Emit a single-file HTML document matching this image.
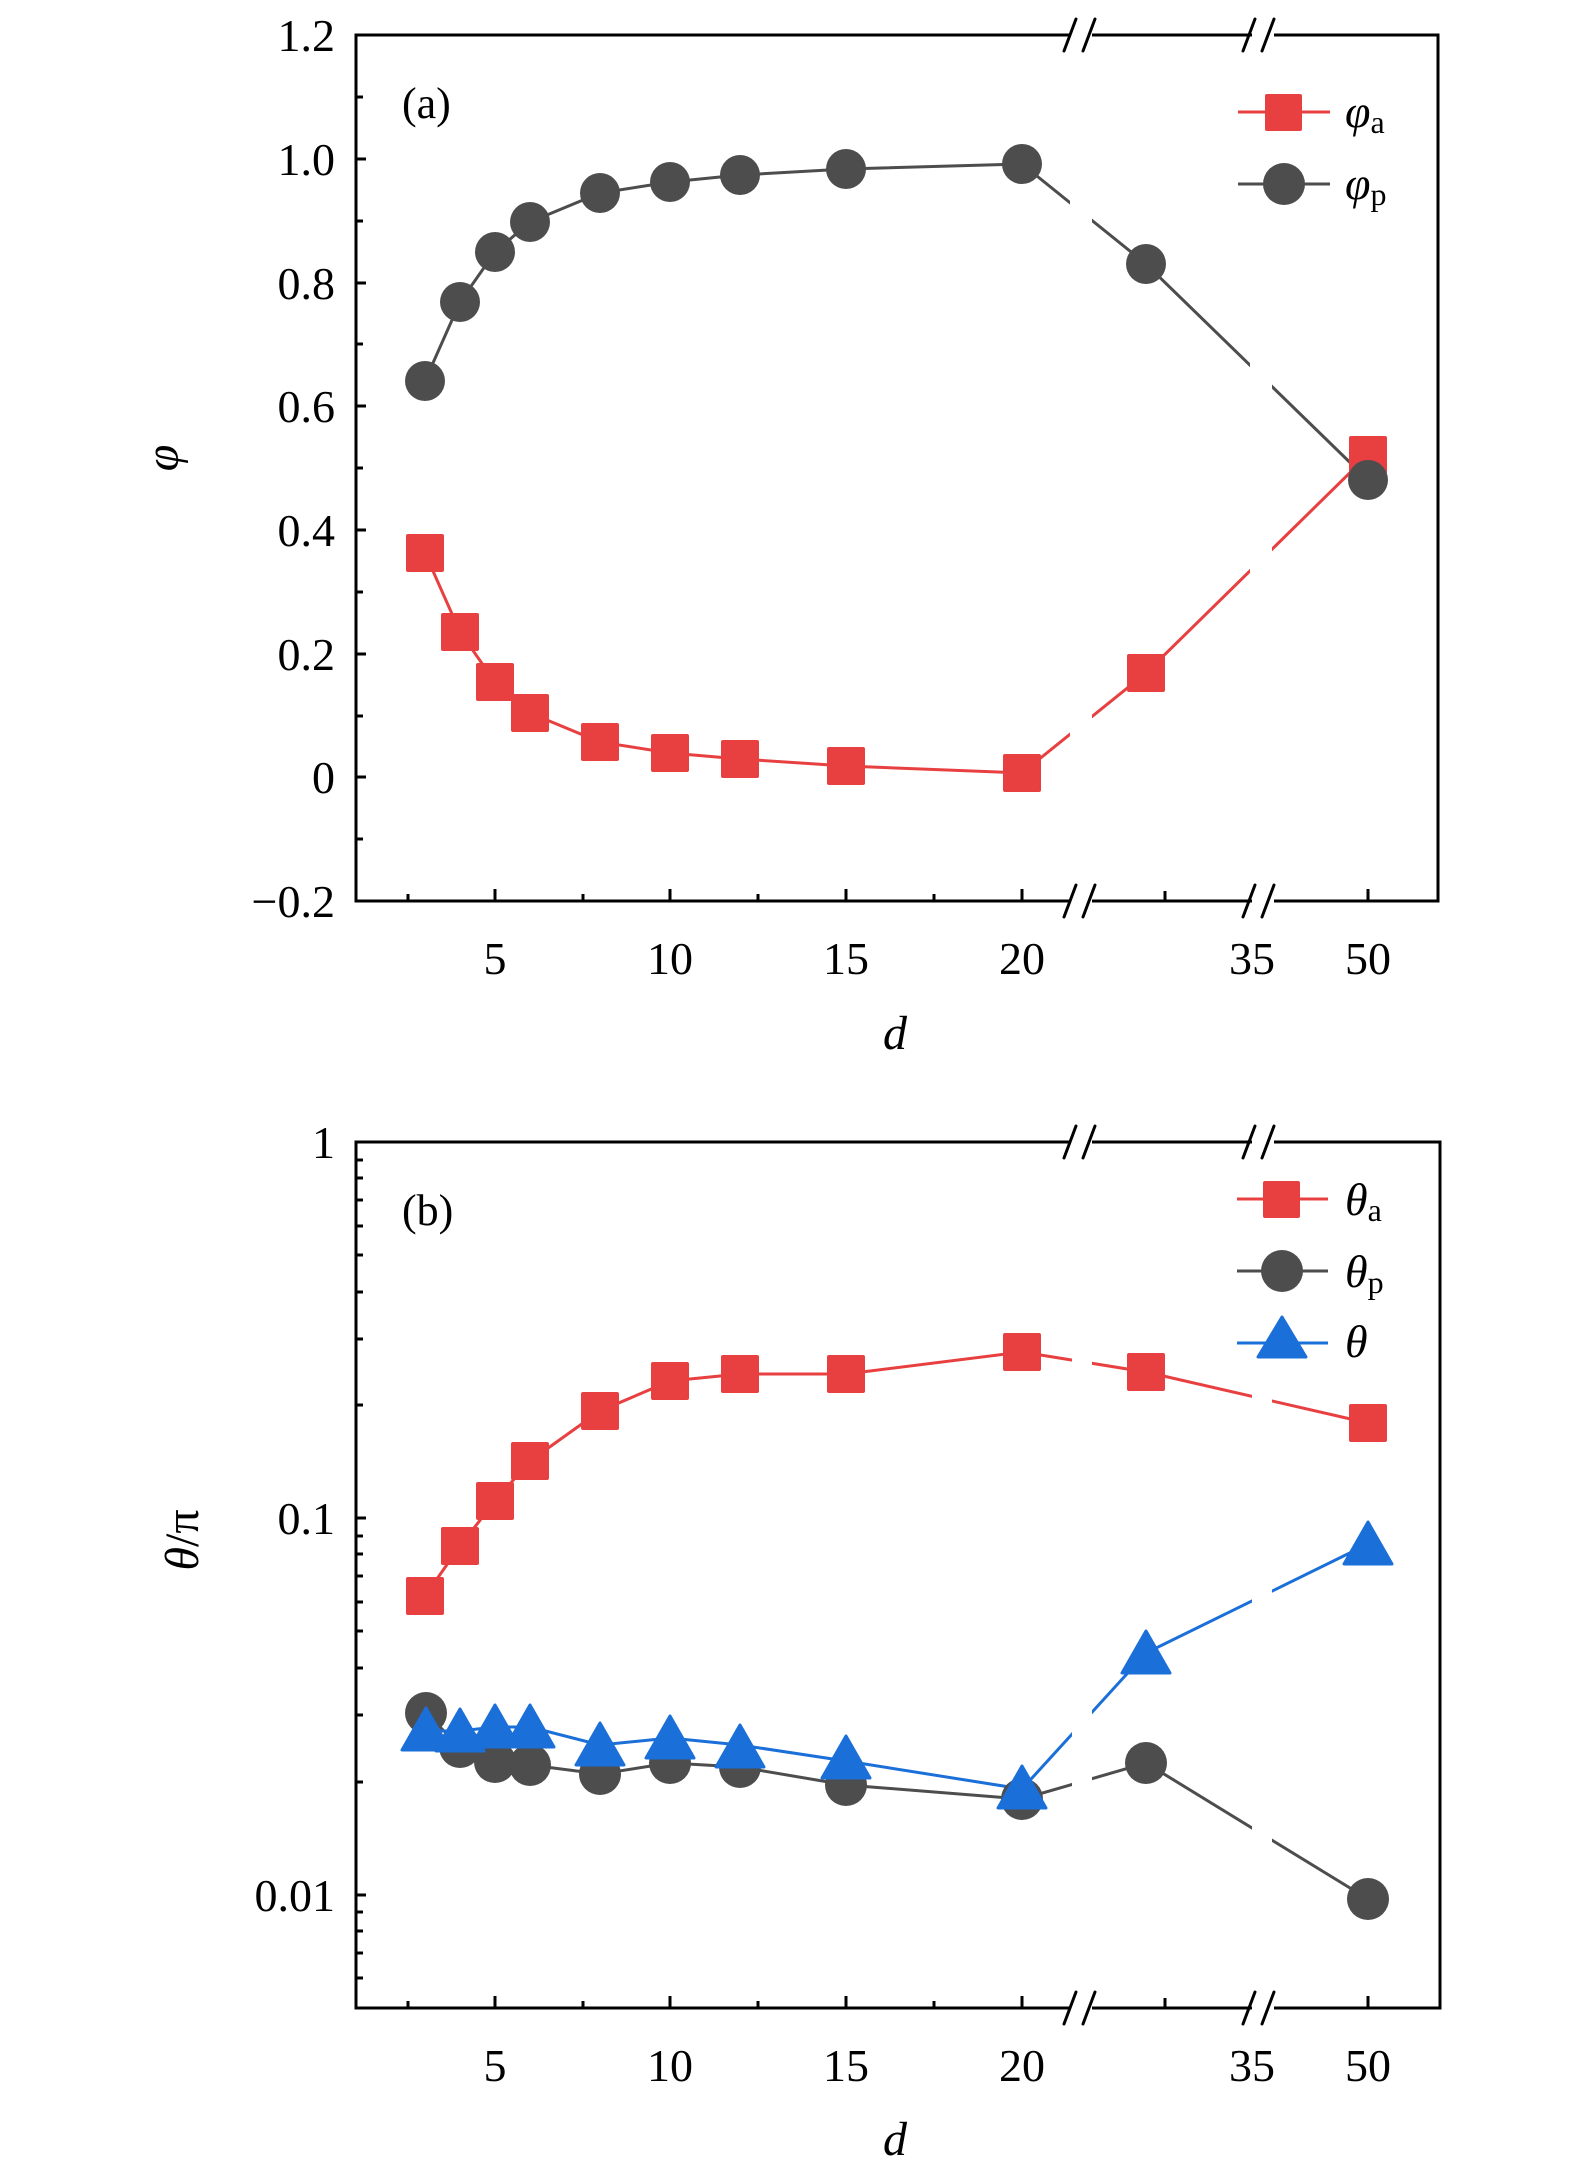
<!DOCTYPE html>
<html><head><meta charset="utf-8"><style>
html,body{margin:0;padding:0;background:#fff;}
svg{display:block;}
text{font-family:"Liberation Serif",serif;fill:#000;}
</style></head><body>
<svg width="1575" height="2175" viewBox="0 0 1575 2175" xmlns="http://www.w3.org/2000/svg">
<!-- ========== PANEL A ========== -->
<g>
<polyline fill="none" stroke="#4d4d4d" stroke-width="3" points="425,381 460,302 495,252 530,222 600,193 670,182 740,175 846,169 1022,164 1146,264 1368,480"/>
<polyline fill="none" stroke="#e84040" stroke-width="3" points="425,553 460,632 495,682 530,713 600,742 670,753 740,759 846,766 1022,773 1146,673 1368,455"/>
<rect x="1070" y="40" width="22" height="855" fill="#fff"/>
<rect x="1250" y="40" width="22" height="855" fill="#fff"/>
<g fill="#4d4d4d">
<circle cx="425" cy="381" r="20"/><circle cx="460" cy="302" r="20"/><circle cx="495" cy="252" r="20"/><circle cx="530" cy="222" r="20"/><circle cx="600" cy="193" r="20"/><circle cx="670" cy="182" r="20"/><circle cx="740" cy="175" r="20"/><circle cx="846" cy="169" r="20"/><circle cx="1022" cy="164" r="20"/><circle cx="1146" cy="264" r="20"/>
</g>
<g fill="#e84040">
<rect x="406" y="534" width="38" height="38" rx="2"/><rect x="441" y="613" width="38" height="38" rx="2"/><rect x="476" y="663" width="38" height="38" rx="2"/><rect x="511" y="694" width="38" height="38" rx="2"/><rect x="581" y="723" width="38" height="38" rx="2"/><rect x="651" y="734" width="38" height="38" rx="2"/><rect x="721" y="740" width="38" height="38" rx="2"/><rect x="827" y="747" width="38" height="38" rx="2"/><rect x="1003" y="754" width="38" height="38" rx="2"/><rect x="1127" y="654" width="38" height="38" rx="2"/><rect x="1349" y="436" width="38" height="38" rx="2"/>
</g>
<circle cx="1368" cy="480" r="20" fill="#4d4d4d"/>
<rect x="356" y="35" width="1082" height="866" fill="none" stroke="#000" stroke-width="3"/>
<g stroke="#000" stroke-width="3">
<line x1="356" y1="35" x2="366" y2="35"/><line x1="356" y1="159" x2="366" y2="159"/><line x1="356" y1="283" x2="366" y2="283"/><line x1="356" y1="406" x2="366" y2="406"/><line x1="356" y1="530" x2="366" y2="530"/><line x1="356" y1="654" x2="366" y2="654"/><line x1="356" y1="777" x2="366" y2="777"/>
<line x1="356" y1="97" x2="363" y2="97"/><line x1="356" y1="221" x2="363" y2="221"/><line x1="356" y1="344" x2="363" y2="344"/><line x1="356" y1="468" x2="363" y2="468"/><line x1="356" y1="592" x2="363" y2="592"/><line x1="356" y1="716" x2="363" y2="716"/><line x1="356" y1="839" x2="363" y2="839"/>
<line x1="495" y1="901" x2="495" y2="889"/><line x1="670" y1="901" x2="670" y2="889"/><line x1="846" y1="901" x2="846" y2="889"/><line x1="1022" y1="901" x2="1022" y2="889"/><line x1="1165" y1="901" x2="1165" y2="891"/><line x1="1368" y1="901" x2="1368" y2="889"/>
<line x1="408" y1="901" x2="408" y2="894"/><line x1="583" y1="901" x2="583" y2="894"/><line x1="758" y1="901" x2="758" y2="894"/><line x1="934" y1="901" x2="934" y2="894"/>
</g>
<g>
<rect x="1070" y="28" width="22" height="14" fill="#fff"/><rect x="1252" y="28" width="22" height="14" fill="#fff"/>
<rect x="1070" y="894" width="22" height="14" fill="#fff"/><rect x="1252" y="894" width="22" height="14" fill="#fff"/>
<g stroke="#000" stroke-width="3" stroke-linecap="round">
<line x1="1064" y1="51" x2="1076" y2="19"/><line x1="1083" y1="51" x2="1095" y2="19"/>
<line x1="1243" y1="51" x2="1255" y2="19"/><line x1="1262" y1="51" x2="1274" y2="19"/>
<line x1="1064" y1="917" x2="1076" y2="885"/><line x1="1083" y1="917" x2="1095" y2="885"/>
<line x1="1243" y1="917" x2="1255" y2="885"/><line x1="1262" y1="917" x2="1274" y2="885"/>
</g>
</g>
<g font-size="46" text-anchor="end">
<text x="335" y="51">1.2</text><text x="335" y="175">1.0</text><text x="335" y="299">0.8</text><text x="335" y="422">0.6</text><text x="335" y="546">0.4</text><text x="335" y="670">0.2</text><text x="335" y="793">0</text><text x="335" y="917">−0.2</text>
</g>
<g font-size="46" text-anchor="middle">
<text x="495" y="974">5</text><text x="670" y="974">10</text><text x="846" y="974">15</text><text x="1022" y="974">20</text><text x="1252" y="974">35</text><text x="1368" y="974">50</text>
</g>
<text x="895" y="1049" font-size="48" font-style="italic" text-anchor="middle">d</text>
<text x="0" y="0" font-size="48" font-style="italic" text-anchor="middle" transform="translate(178,458) rotate(-90)">φ</text>
<text x="402" y="118" font-size="44">(a)</text>
<line x1="1238" y1="112" x2="1330" y2="112" stroke="#e84040" stroke-width="3"/>
<rect x="1265" y="94" width="37" height="37" rx="2" fill="#e84040"/>
<text x="1345" y="127" font-size="46" font-style="italic">φ<tspan font-size="32" font-style="normal" dy="6">a</tspan></text>
<line x1="1238" y1="184" x2="1330" y2="184" stroke="#4d4d4d" stroke-width="3"/>
<circle cx="1284" cy="184" r="21" fill="#4d4d4d"/>
<text x="1345" y="199" font-size="46" font-style="italic">φ<tspan font-size="32" font-style="normal" dy="6">p</tspan></text>
</g>

<!-- ========== PANEL B ========== -->
<g>
<polyline fill="none" stroke="#e84040" stroke-width="3" points="425,1596 460,1546 495,1501 530,1461 600,1411 670,1381 740,1374 846,1374 1022,1352 1146,1372 1368,1423"/>
<polyline fill="none" stroke="#4d4d4d" stroke-width="3" points="426,1713 460,1747 495,1762 530,1765 600,1774 670,1763 740,1767 846,1785 1022,1799 1146,1763 1368,1899"/>
<polyline fill="none" stroke="#1a6fd8" stroke-width="3" points="426,1731 460,1731 495,1727 530,1727 600,1745 670,1738 740,1745 846,1761 1022,1789 1146,1653 1368,1544"/>
<rect x="1072" y="1147" width="20" height="855" fill="#fff"/>
<rect x="1252" y="1147" width="20" height="855" fill="#fff"/>
<g fill="#e84040">
<rect x="406" y="1577" width="38" height="38" rx="2"/><rect x="441" y="1527" width="38" height="38" rx="2"/><rect x="476" y="1482" width="38" height="38" rx="2"/><rect x="511" y="1442" width="38" height="38" rx="2"/><rect x="581" y="1392" width="38" height="38" rx="2"/><rect x="651" y="1362" width="38" height="38" rx="2"/><rect x="721" y="1355" width="38" height="38" rx="2"/><rect x="827" y="1355" width="38" height="38" rx="2"/><rect x="1003" y="1333" width="38" height="38" rx="2"/><rect x="1127" y="1353" width="38" height="38" rx="2"/><rect x="1349" y="1404" width="38" height="38" rx="2"/>
</g>
<g fill="#4d4d4d">
<circle cx="426" cy="1713" r="21"/><circle cx="460" cy="1747" r="21"/><circle cx="495" cy="1762" r="21"/><circle cx="530" cy="1765" r="21"/><circle cx="600" cy="1774" r="21"/><circle cx="670" cy="1763" r="21"/><circle cx="740" cy="1767" r="21"/><circle cx="846" cy="1785" r="21"/><circle cx="1022" cy="1799" r="21"/><circle cx="1146" cy="1763" r="21"/><circle cx="1368" cy="1899" r="21"/>
</g>
<g fill="#1a6fd8" stroke="#1a6fd8" stroke-width="3" stroke-linejoin="round">
<polygon points="426,1708 402,1750 450,1750"/>
<polygon points="460,1709 436,1751 484,1751"/>
<polygon points="495,1705 471,1747 519,1747"/>
<polygon points="530,1705 506,1747 554,1747"/>
<polygon points="600,1723 576,1765 624,1765"/>
<polygon points="670,1716 646,1758 694,1758"/>
<polygon points="740,1725 716,1767 764,1767"/>
<polygon points="846,1736 822,1778 870,1778"/>
<polygon points="1022,1766 998,1808 1046,1808"/>
<polygon points="1146,1631 1122,1673 1170,1673"/>
<polygon points="1368,1522 1344,1564 1392,1564"/>
</g>
<rect x="356" y="1142" width="1084" height="866" fill="none" stroke="#000" stroke-width="3"/>
<g stroke="#000" stroke-width="3">
<line x1="356" y1="1142" x2="366" y2="1142"/><line x1="356" y1="1518" x2="366" y2="1518"/><line x1="356" y1="1895" x2="366" y2="1895"/>
<line x1="356" y1="1160" x2="363" y2="1160"/><line x1="356" y1="1178" x2="363" y2="1178"/><line x1="356" y1="1200" x2="363" y2="1200"/><line x1="356" y1="1226" x2="363" y2="1226"/><line x1="356" y1="1255" x2="363" y2="1255"/><line x1="356" y1="1292" x2="363" y2="1292"/><line x1="356" y1="1339" x2="363" y2="1339"/><line x1="356" y1="1405" x2="363" y2="1405"/>
<line x1="356" y1="1536" x2="363" y2="1536"/><line x1="356" y1="1554" x2="363" y2="1554"/><line x1="356" y1="1576" x2="363" y2="1576"/><line x1="356" y1="1602" x2="363" y2="1602"/><line x1="356" y1="1631" x2="363" y2="1631"/><line x1="356" y1="1668" x2="363" y2="1668"/><line x1="356" y1="1715" x2="363" y2="1715"/><line x1="356" y1="1782" x2="363" y2="1782"/>
<line x1="356" y1="1912" x2="363" y2="1912"/><line x1="356" y1="1931" x2="363" y2="1931"/><line x1="356" y1="1953" x2="363" y2="1953"/><line x1="356" y1="1978" x2="363" y2="1978"/>
<line x1="495" y1="2008" x2="495" y2="1996"/><line x1="670" y1="2008" x2="670" y2="1996"/><line x1="846" y1="2008" x2="846" y2="1996"/><line x1="1022" y1="2008" x2="1022" y2="1996"/><line x1="1165" y1="2008" x2="1165" y2="1998"/><line x1="1368" y1="2008" x2="1368" y2="1996"/>
<line x1="408" y1="2008" x2="408" y2="2001"/><line x1="583" y1="2008" x2="583" y2="2001"/><line x1="758" y1="2008" x2="758" y2="2001"/><line x1="934" y1="2008" x2="934" y2="2001"/>
</g>
<g>
<rect x="1070" y="1135" width="22" height="14" fill="#fff"/><rect x="1252" y="1135" width="22" height="14" fill="#fff"/>
<rect x="1070" y="2001" width="22" height="14" fill="#fff"/><rect x="1252" y="2001" width="22" height="14" fill="#fff"/>
<g stroke="#000" stroke-width="3" stroke-linecap="round">
<line x1="1064" y1="1158" x2="1076" y2="1126"/><line x1="1083" y1="1158" x2="1095" y2="1126"/>
<line x1="1243" y1="1158" x2="1255" y2="1126"/><line x1="1262" y1="1158" x2="1274" y2="1126"/>
<line x1="1064" y1="2024" x2="1076" y2="1992"/><line x1="1083" y1="2024" x2="1095" y2="1992"/>
<line x1="1243" y1="2024" x2="1255" y2="1992"/><line x1="1262" y1="2024" x2="1274" y2="1992"/>
</g>
</g>
<g font-size="46" text-anchor="end">
<text x="335" y="1158">1</text><text x="335" y="1534">0.1</text><text x="335" y="1911">0.01</text>
</g>
<g font-size="46" text-anchor="middle">
<text x="495" y="2081">5</text><text x="670" y="2081">10</text><text x="846" y="2081">15</text><text x="1022" y="2081">20</text><text x="1252" y="2081">35</text><text x="1368" y="2081">50</text>
</g>
<text x="895" y="2155" font-size="48" font-style="italic" text-anchor="middle">d</text>
<text x="0" y="0" font-size="48" text-anchor="middle" transform="translate(198,1540) rotate(-90)"><tspan font-style="italic">θ</tspan>/π</text>
<text x="402" y="1225" font-size="44">(b)</text>
<line x1="1237" y1="1199" x2="1328" y2="1199" stroke="#e84040" stroke-width="3"/>
<rect x="1263" y="1181" width="37" height="37" rx="2" fill="#e84040"/>
<text x="1345" y="1215" font-size="46" font-style="italic">θ<tspan font-size="32" font-style="normal" dy="6">a</tspan></text>
<line x1="1237" y1="1271" x2="1328" y2="1271" stroke="#4d4d4d" stroke-width="3"/>
<circle cx="1282" cy="1271" r="21" fill="#4d4d4d"/>
<text x="1345" y="1287" font-size="46" font-style="italic">θ<tspan font-size="32" font-style="normal" dy="6">p</tspan></text>
<line x1="1237" y1="1343" x2="1328" y2="1343" stroke="#1a6fd8" stroke-width="3"/>
<polygon points="1282,1317 1258,1357 1306,1357" fill="#1a6fd8" stroke="#1a6fd8" stroke-width="3" stroke-linejoin="round"/>
<text x="1345" y="1357" font-size="46" font-style="italic">θ</text>
</g>
</svg>
</body></html>
